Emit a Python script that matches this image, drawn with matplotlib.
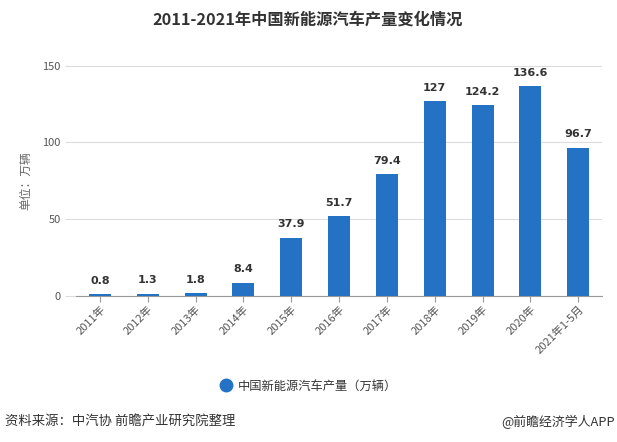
import matplotlib.pyplot as plt

plt.rcParams['font.family'] = ['Noto Sans CJK SC', 'DejaVu Sans']
plt.rcParams['axes.unicode_minus'] = False

years = ['2011年', '2012年', '2013年', '2014年', '2015年', '2016年',
         '2017年', '2018年', '2019年', '2020年', '2021年1-5月']
output = [0.8, 1.3, 1.8, 8.4, 37.9, 51.7, 79.4, 127, 124.2, 136.6, 96.7]
value_labels = ['0.8', '1.3', '1.8', '8.4', '37.9', '51.7', '79.4', '127', '124.2', '136.6', '96.7']
yticks = [0, 50, 100, 150]

bar_color = '#2372c4'
grid_color = '#dcdcdc'

fig = plt.figure(figsize=(6.17, 4.42), dpi=100)
ax = fig.add_axes([0.123, 0.331, 0.853, 0.52])

x = range(len(years))
bars = ax.bar(x, output, width=0.46, color=bar_color, zorder=3)
# data labels above bars
for b, t in zip(bars, value_labels):
    ax.annotate(t, (b.get_x() + b.get_width() / 2, b.get_height()),
                xytext=(0, 6), textcoords='offset points', ha='center', va='bottom',
                fontsize=8, fontweight='bold', color='#333333', family='DejaVu Sans')

ax.set_xlim(-0.5, len(years) - 0.5)
ax.set_ylim(0, 150)
ax.set_yticks(yticks)
ax.yaxis.grid(True, color=grid_color, linewidth=0.8, zorder=0)
ax.tick_params(axis='y', length=8, color=grid_color, labelsize=8, labelcolor='#555555', pad=3)
ax.set_xticks(list(x))
ax.set_xticklabels(years, rotation=45, ha='right', rotation_mode='anchor',
                   fontsize=8, color='#555555')
ax.tick_params(axis='x', length=4, color='#999999', pad=2)
for s in ['top', 'right', 'left']:
    ax.spines[s].set_visible(False)
ax.spines['bottom'].set_color('#999999')

ax.set_ylabel('单位：万辆', fontsize=8.5, color='#666666', labelpad=7)

fig.text(0.498, 0.955, '2011-2021年中国新能源汽车产量变化情况', ha='center', va='center',
         fontsize=11.7, fontweight='bold', color='#333333')

leg = fig.legend(handles=[plt.Line2D([], [], marker='o', linestyle='', markersize=9,
                                     color=bar_color)],
                 labels=['中国新能源汽车产量（万辆）'], loc='center',
                 bbox_to_anchor=(0.5, 0.127), frameon=False, fontsize=8.8,
                 handletextpad=0.4, handlelength=1)
for t in leg.get_texts():
    t.set_color('#333333')

fig.text(0.008, 0.045, '资料来源：中汽协 前瞻产业研究院整理', ha='left', va='center',
         fontsize=9.6, color='#333333')
fig.text(0.997, 0.045, '@前瞻经济学人APP', ha='right', va='center',
         fontsize=9.3, color='#333333')

fig.savefig('out.png', dpi=100)
